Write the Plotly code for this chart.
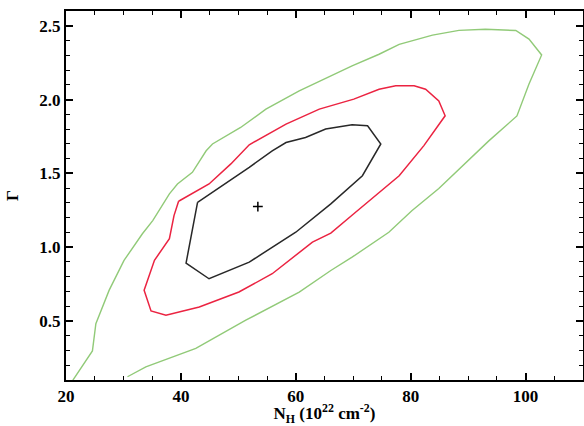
import plotly.graph_objects as go

# 68% contour (black)
c68_nh = [42.9, 40.9, 44.9, 51.9, 60.0, 66.1, 71.6, 74.8, 72.5, 69.8, 65.2, 61.7, 58.3, 55.9, 51.9, 47.2, 42.9]
c68_g = [1.304, 0.892, 0.786, 0.899, 1.101, 1.293, 1.484, 1.699, 1.822, 1.829, 1.800, 1.743, 1.709, 1.653, 1.541, 1.417, 1.304]

# 90% contour (red)
c90_nh = [39.6, 38.8, 38.0, 35.4, 33.6, 34.8, 37.4, 43.2, 50.1, 55.9, 62.9, 66.1, 70.1, 78.0, 82.3, 86.0,
          84.9, 82.6, 80.6, 77.4, 74.5, 70.1, 64.1, 58.3, 51.9, 48.7, 44.9, 39.6]
c90_g = [1.311, 1.214, 1.057, 0.911, 0.708, 0.568, 0.539, 0.595, 0.696, 0.820, 1.034, 1.095, 1.226, 1.484, 1.688, 1.890,
         1.991, 2.070, 2.093, 2.093, 2.070, 2.003, 1.935, 1.834, 1.694, 1.564, 1.428, 1.311]

# 99% contour (green, open at the bottom axis)
c99_nh = [21.2, 24.6, 25.2, 27.5, 30.1, 33.3, 35.1, 38.0, 39.4, 42.0, 44.4, 45.5, 50.4, 54.8, 60.6, 69.8, 74.5,
          78.0, 83.8, 88.4, 93.0, 98.3, 100.6, 102.8, 100.6, 98.5, 93.6, 88.8, 84.9, 80.2, 76.2, 69.8, 66.1,
          60.6, 51.3, 42.6, 33.9, 30.7]
c99_g = [0.099, 0.297, 0.482, 0.707, 0.910, 1.091, 1.180, 1.361, 1.428, 1.507, 1.653, 1.699, 1.811, 1.935, 2.059,
         2.228, 2.307, 2.374, 2.437, 2.469, 2.476, 2.468, 2.410, 2.302, 2.106, 1.889, 1.720, 1.545, 1.397, 1.247,
         1.101, 0.932, 0.842, 0.696, 0.505, 0.314, 0.189, 0.122]

best_nh = [53.4]
best_g = [1.275]

x_ticks = [20, 40, 60, 80, 100]
y_ticks = [0.5, 1.0, 1.5, 2.0, 2.5]
y_labels = ["0.5", "1.0", "1.5", "2.0", "2.5"]

SERIF = "Liberation Serif, Times New Roman, Times, serif"

fig = go.Figure()
fig.add_trace(go.Scatter(x=c99_nh, y=c99_g, mode="lines",
                         line=dict(color="rgb(145,202,120)", width=1.4), hoverinfo="skip"))
fig.add_trace(go.Scatter(x=c90_nh, y=c90_g, mode="lines",
                         line=dict(color="rgb(235,35,65)", width=1.5), hoverinfo="skip"))
fig.add_trace(go.Scatter(x=c68_nh, y=c68_g, mode="lines",
                         line=dict(color="rgb(40,40,40)", width=1.5), hoverinfo="skip"))
fig.add_trace(go.Scatter(x=best_nh, y=best_g, mode="markers",
                         marker=dict(symbol="cross-thin", size=7, line=dict(color="black", width=1.5))))

axis_font = dict(family=SERIF, size=17, color="black", weight="bold")

fig.update_layout(
    width=584, height=426,
    margin=dict(l=66, r=1, t=11, b=46),
    paper_bgcolor="white", plot_bgcolor="white",
    showlegend=False,
    font=dict(family=SERIF, color="black"),
    xaxis=dict(
        range=[20, 110], tickvals=x_ticks, ticktext=[str(v) for v in x_ticks],
        ticks="inside", ticklen=7, tickwidth=1.5, tickcolor="black",
        minor=dict(dtick=5, tick0=0, ticks="inside", ticklen=4, tickwidth=1.2, tickcolor="black"),
        showline=True, linecolor="black", linewidth=2, mirror="ticks",
        showgrid=False, zeroline=False, tickfont=axis_font, automargin=False,
        title=dict(text="<b>N<sub>H</sub> (10<sup>22</sup> cm<sup>-2</sup>)</b>", standoff=0,
                   font=dict(family=SERIF, size=17, color="black", weight="bold")),
    ),
    yaxis=dict(
        range=[0.1, 2.6], tickvals=y_ticks, ticktext=y_labels,
        ticks="inside", ticklen=7, tickwidth=1.5, tickcolor="black",
        minor=dict(dtick=0.1, tick0=0, ticks="inside", ticklen=4, tickwidth=1.2, tickcolor="black"),
        showline=True, linecolor="black", linewidth=2, mirror="ticks",
        showgrid=False, zeroline=False, tickfont=axis_font, automargin=False,
        title=dict(text="<b>Γ</b>", standoff=16,
                   font=dict(family=SERIF, size=17, color="black", weight="bold")),
    ),
)

fig.write_html("out.html",
               config={"displayModeBar": False},
               post_script="document.body.style.margin='0';document.body.style.overflow='hidden';")
